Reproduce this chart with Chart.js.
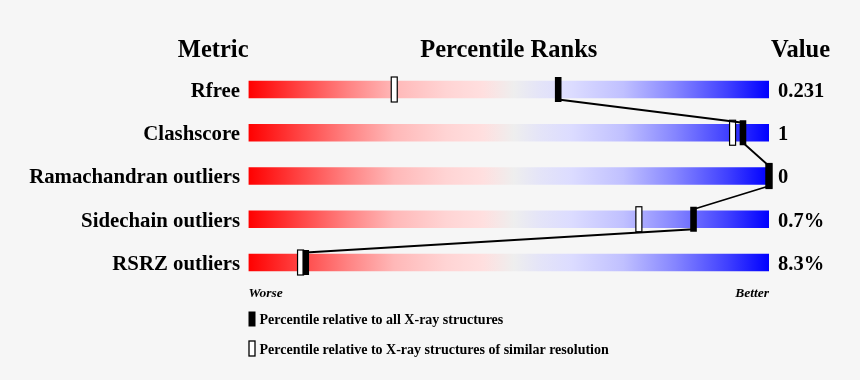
<!DOCTYPE html>
<html>
<head>
<meta charset="utf-8">
<script src="https://cdn.jsdelivr.net/npm/chart.js@4.4.0/dist/chart.umd.min.js"></script>
<style>
html,body{margin:0;padding:0;background:#f6f6f6;}
#wrap{width:860px;height:380px;position:relative;}
</style>
</head>
<body>
<div id="wrap"><canvas id="c"></canvas></div>
<script>
// ---- data ----
const metrics = ['Rfree', 'Clashscore', 'Ramachandran outliers', 'Sidechain outliers', 'RSRZ outliers'];
const valueLabels = ['0.231', '1', '0', '0.7%', '8.3%'];
const pctAll = [59.5, 95, 100, 85.5, 11];        // percentile relative to all X-ray structures
const pctSimilar = [28, 93, 100, 75, 10];        // percentile relative to similar resolution
const headers = ['Metric', 'Percentile Ranks', 'Value'];
const scaleEnds = ['Worse', 'Better'];
const legendLabels = ['Percentile relative to all X-ray structures',
                      'Percentile relative to X-ray structures of similar resolution'];

const SERIF = "'Liberation Serif','Times New Roman',Times,serif";

function barGradient(context) {
  const chart = context.chart;
  if (!chart.chartArea) return '#cccccc';
  const xs = chart.scales.x;
  const g = chart.ctx.createLinearGradient(xs.getPixelForValue(0), 0, xs.getPixelForValue(100), 0);
  g.addColorStop(0.00, '#ff0000');
  g.addColorStop(0.10, '#ff4545');
  g.addColorStop(0.19, '#ff8282');
  g.addColorStop(0.28, '#ffb8b8');
  g.addColorStop(0.38, '#ffd4d4');
  g.addColorStop(0.45, '#ffdfdf');
  g.addColorStop(0.51, '#eeeeee');
  g.addColorStop(0.56, '#e4e4f8');
  g.addColorStop(0.62, '#dcdcff');
  g.addColorStop(0.72, '#c0c0ff');
  g.addColorStop(0.82, '#8585ff');
  g.addColorStop(0.92, '#4040ff');
  g.addColorStop(1.00, '#0000ff');
  return g;
}

const overlay = {
  id: 'overlay',
  afterDatasetsDraw(chart) {
    const ctx = chart.ctx;
    const xs = chart.scales.x, ys = chart.scales.y;
    const x0 = xs.getPixelForValue(0), x1 = xs.getPixelForValue(100);
    ctx.save();
    // headers
    ctx.fillStyle = '#000';
    ctx.font = 'bold 24.5px ' + SERIF;
    ctx.textBaseline = 'alphabetic';
    ctx.textAlign = 'right';
    ctx.fillText(headers[0], x0, 57);
    ctx.textAlign = 'center';
    ctx.fillText(headers[1], (x0 + x1) / 2, 57);
    ctx.textAlign = 'left';
    ctx.fillText(headers[2], x1 + 2, 57);

    const MW = 6, MH = 25, LINE_OFF = 10;
    // open markers (similar resolution)
    for (let i = 0; i < metrics.length; i++) {
      const y = ys.getPixelForValue(i);
      const x = xs.getPixelForValue(pctSimilar[i]);
      ctx.fillStyle = '#ffffff';
      ctx.fillRect(x - MW / 2, y - MH / 2, MW, MH);
      ctx.strokeStyle = '#000';
      ctx.lineWidth = 1.2;
      ctx.strokeRect(x - MW / 2, y - MH / 2, MW, MH);
    }
    // connecting line
    ctx.strokeStyle = '#000';
    ctx.lineWidth = 1.8;
    ctx.beginPath();
    for (let i = 0; i < metrics.length - 1; i++) {
      const ya = ys.getPixelForValue(i), yb = ys.getPixelForValue(i + 1);
      ctx.moveTo(xs.getPixelForValue(pctAll[i]), ya + LINE_OFF);
      ctx.lineTo(xs.getPixelForValue(pctAll[i + 1]), yb - LINE_OFF);
    }
    ctx.stroke();
    // filled markers (all X-ray)
    ctx.fillStyle = '#000';
    for (let i = 0; i < metrics.length; i++) {
      const y = ys.getPixelForValue(i);
      const x = xs.getPixelForValue(pctAll[i]);
      ctx.fillRect(x - MW / 2 - 0.3, y - MH / 2, MW + 0.6, MH);
    }
    // Worse / Better
    const yb = ys.bottom + 13;
    ctx.font = 'italic bold 13.5px ' + SERIF;
    ctx.textAlign = 'left';
    ctx.fillText(scaleEnds[0], x0, yb);
    ctx.textAlign = 'right';
    ctx.fillText(scaleEnds[1], x1, yb);
    // legend
    ctx.font = 'bold 14px ' + SERIF;
    ctx.textAlign = 'left';
    const ly = [319, 348.5];
    ctx.fillRect(x0, ly[0] - 7.5, 7, 15);
    ctx.fillText(legendLabels[0], x0 + 11, ly[0] + 5);
    ctx.fillStyle = '#fff';
    ctx.fillRect(x0 + 0.5, ly[1] - 7.5, 6, 15);
    ctx.strokeStyle = '#000';
    ctx.lineWidth = 1.3;
    ctx.strokeRect(x0 + 0.5, ly[1] - 7.5, 6, 15);
    ctx.fillStyle = '#000';
    ctx.fillText(legendLabels[1], x0 + 11, ly[1] + 5);
    ctx.restore();
  }
};

new Chart(document.getElementById('c'), {
  type: 'bar',
  data: {
    labels: metrics,
    datasets: [{
      data: metrics.map(() => [0, 100]),
      backgroundColor: barGradient,
      barThickness: 17,
      borderWidth: 0,
      borderSkipped: false
    }]
  },
  options: {
    indexAxis: 'y',
    responsive: true,
    maintainAspectRatio: false,
    animation: false,
    layout: { padding: { left: 0, right: 0, top: 67.875, bottom: 95.875 } },
    plugins: { legend: { display: false }, tooltip: { enabled: false } },
    scales: {
      x: { type: 'linear', min: 0, max: 100, display: false },
      y: {
        position: 'left',
        grid: { display: false, drawTicks: false },
        border: { display: false },
        ticks: { color: '#000', font: { family: SERIF, size: 20.8, weight: 'bold' }, padding: 8.5, labelOffset: 2 },
        afterFit(s) { s.width = 248.5; }
      },
      y2: {
        type: 'category',
        labels: valueLabels,
        position: 'right',
        offset: true,
        grid: { display: false, drawTicks: false },
        border: { display: false },
        ticks: { color: '#000', font: { family: SERIF, size: 20.5, weight: 'bold' }, padding: 9, labelOffset: 2 },
        afterFit(s) { s.width = 91; }
      }
    }
  },
  plugins: [overlay]
});
</script>
</body>
</html>
